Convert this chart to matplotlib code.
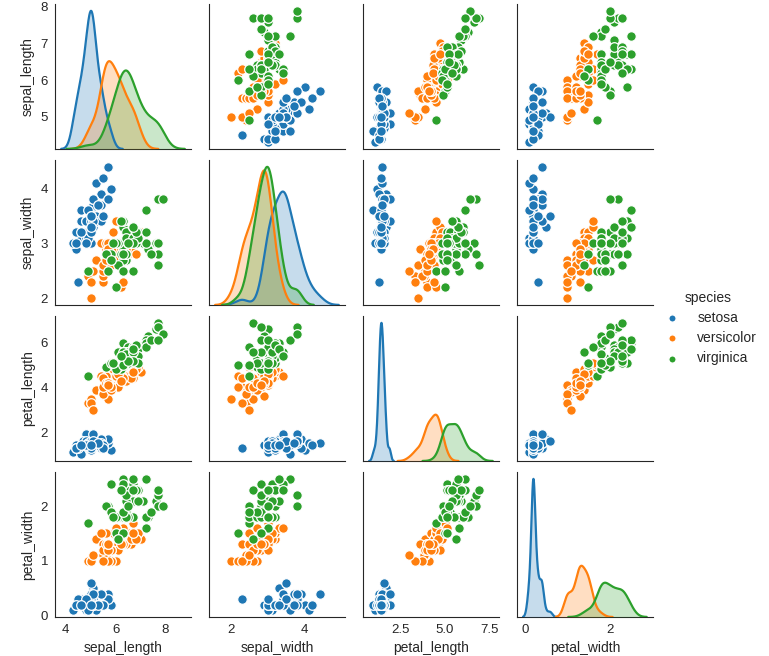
import matplotlib
matplotlib.use("Agg")
import matplotlib.pyplot as plt
import numpy as np
import seaborn as sns

# Fisher's iris measurements, one list per column (50 rows per species)
sepal_length = [
    5.1, 4.9, 4.7, 4.6, 5.0, 5.4, 4.6, 5.0, 4.4, 4.9, 5.4, 4.8, 4.8, 4.3, 5.8, 5.7, 5.4, 5.1, 5.7, 5.1,
    5.4, 5.1, 4.6, 5.1, 4.8, 5.0, 5.0, 5.2, 5.2, 4.7, 4.8, 5.4, 5.2, 5.5, 4.9, 5.0, 5.5, 4.9, 4.4, 5.1,
    5.0, 4.5, 4.4, 5.0, 5.1, 4.8, 5.1, 4.6, 5.3, 5.0,
    7.0, 6.4, 6.9, 5.5, 6.5, 5.7, 6.3, 4.9, 6.6, 5.2, 5.0, 5.9, 6.0, 6.1, 5.6, 6.7, 5.6, 5.8, 6.2, 5.6,
    5.9, 6.1, 6.3, 6.1, 6.4, 6.6, 6.8, 6.7, 6.0, 5.7, 5.5, 5.5, 5.8, 6.0, 5.4, 6.0, 6.7, 6.3, 5.6, 5.5,
    5.5, 6.1, 5.8, 5.0, 5.6, 5.7, 5.7, 6.2, 5.1, 5.7,
    6.3, 5.8, 7.1, 6.3, 6.5, 7.6, 4.9, 7.3, 6.7, 7.2, 6.5, 6.4, 6.8, 5.7, 5.8, 6.4, 6.5, 7.7, 7.7, 6.0,
    6.9, 5.6, 7.7, 6.3, 6.7, 7.2, 6.2, 6.1, 6.4, 7.2, 7.4, 7.9, 6.4, 6.3, 6.1, 7.7, 6.3, 6.4, 6.0, 6.9,
    6.7, 6.9, 5.8, 6.8, 6.7, 6.7, 6.3, 6.5, 6.2, 5.9,
]
sepal_width = [
    3.5, 3.0, 3.2, 3.1, 3.6, 3.9, 3.4, 3.4, 2.9, 3.1, 3.7, 3.4, 3.0, 3.0, 4.0, 4.4, 3.9, 3.5, 3.8, 3.8,
    3.4, 3.7, 3.6, 3.3, 3.4, 3.0, 3.4, 3.5, 3.4, 3.2, 3.1, 3.4, 4.1, 4.2, 3.1, 3.2, 3.5, 3.6, 3.0, 3.4,
    3.5, 2.3, 3.2, 3.5, 3.8, 3.0, 3.8, 3.2, 3.7, 3.3,
    3.2, 3.2, 3.1, 2.3, 2.8, 2.8, 3.3, 2.4, 2.9, 2.7, 2.0, 3.0, 2.2, 2.9, 2.9, 3.1, 3.0, 2.7, 2.2, 2.5,
    3.2, 2.8, 2.5, 2.8, 2.9, 3.0, 2.8, 3.0, 2.9, 2.6, 2.4, 2.4, 2.7, 2.7, 3.0, 3.4, 3.1, 2.3, 3.0, 2.5,
    2.6, 3.0, 2.6, 2.3, 2.7, 3.0, 2.9, 2.9, 2.5, 2.8,
    3.3, 2.7, 3.0, 2.9, 3.0, 3.0, 2.5, 2.9, 2.5, 3.6, 3.2, 2.7, 3.0, 2.5, 2.8, 3.2, 3.0, 3.8, 2.6, 2.2,
    3.2, 2.8, 2.8, 2.7, 3.3, 3.2, 2.8, 3.0, 2.8, 3.0, 2.8, 3.8, 2.8, 2.8, 2.6, 3.0, 3.4, 3.1, 3.0, 3.1,
    3.1, 3.1, 2.7, 3.2, 3.3, 3.0, 2.5, 3.0, 3.4, 3.0,
]
petal_length = [
    1.4, 1.4, 1.3, 1.5, 1.4, 1.7, 1.4, 1.5, 1.4, 1.5, 1.5, 1.6, 1.4, 1.1, 1.2, 1.5, 1.3, 1.4, 1.7, 1.5,
    1.7, 1.5, 1.0, 1.7, 1.9, 1.6, 1.6, 1.5, 1.4, 1.6, 1.6, 1.5, 1.5, 1.4, 1.5, 1.2, 1.3, 1.4, 1.3, 1.5,
    1.3, 1.3, 1.3, 1.6, 1.9, 1.4, 1.6, 1.4, 1.5, 1.4,
    4.7, 4.5, 4.9, 4.0, 4.6, 4.5, 4.7, 3.3, 4.6, 3.9, 3.5, 4.2, 4.0, 4.7, 3.6, 4.4, 4.5, 4.1, 4.5, 3.9,
    4.8, 4.0, 4.9, 4.7, 4.3, 4.4, 4.8, 5.0, 4.5, 3.5, 3.8, 3.7, 3.9, 5.1, 4.5, 4.5, 4.7, 4.4, 4.1, 4.0,
    4.4, 4.6, 4.0, 3.3, 4.2, 4.2, 4.2, 4.3, 3.0, 4.1,
    6.0, 5.1, 5.9, 5.6, 5.8, 6.6, 4.5, 6.3, 5.8, 6.1, 5.1, 5.3, 5.5, 5.0, 5.1, 5.3, 5.5, 6.7, 6.9, 5.0,
    5.7, 4.9, 6.7, 4.9, 5.7, 6.0, 4.8, 4.9, 5.6, 5.8, 6.1, 6.4, 5.6, 5.1, 5.6, 6.1, 5.6, 5.5, 4.8, 5.4,
    5.6, 5.1, 5.1, 5.9, 5.7, 5.2, 5.0, 5.2, 5.4, 5.1,
]
petal_width = [
    0.2, 0.2, 0.2, 0.2, 0.2, 0.4, 0.3, 0.2, 0.2, 0.1, 0.2, 0.2, 0.1, 0.1, 0.2, 0.4, 0.4, 0.3, 0.3, 0.3,
    0.2, 0.4, 0.2, 0.5, 0.2, 0.2, 0.4, 0.2, 0.2, 0.2, 0.2, 0.4, 0.1, 0.2, 0.2, 0.2, 0.2, 0.1, 0.2, 0.2,
    0.3, 0.3, 0.2, 0.6, 0.4, 0.3, 0.2, 0.2, 0.2, 0.2,
    1.4, 1.5, 1.5, 1.3, 1.5, 1.3, 1.6, 1.0, 1.3, 1.4, 1.0, 1.5, 1.0, 1.4, 1.3, 1.4, 1.5, 1.0, 1.5, 1.1,
    1.8, 1.3, 1.5, 1.2, 1.3, 1.4, 1.4, 1.7, 1.5, 1.0, 1.1, 1.0, 1.2, 1.6, 1.5, 1.6, 1.5, 1.3, 1.3, 1.3,
    1.2, 1.4, 1.2, 1.0, 1.3, 1.2, 1.3, 1.3, 1.1, 1.3,
    2.5, 1.9, 2.1, 1.8, 2.2, 2.1, 1.7, 1.8, 1.8, 2.5, 2.0, 1.9, 2.1, 2.0, 2.4, 2.3, 1.8, 2.2, 2.3, 1.5,
    2.3, 2.0, 2.0, 1.8, 2.1, 1.8, 1.8, 1.8, 2.1, 1.6, 1.9, 2.0, 2.2, 1.5, 1.4, 2.3, 2.4, 1.8, 1.8, 2.1,
    2.4, 2.3, 1.9, 2.3, 2.5, 2.3, 1.9, 2.0, 2.3, 1.8,
]
species_names = ["setosa", "versicolor", "virginica"]
species = [name for name in species_names for _ in range(50)]

variables = ["sepal_length", "sepal_width", "petal_length", "petal_width"]
var_ticks = {
    "sepal_length": [4, 6, 8],
    "sepal_width": [2, 4],
    "petal_length": [2.5, 5.0, 7.5],
    "petal_width": [0, 2],
}
var_yticks = {
    "sepal_length": [5, 6, 7, 8],
    "sepal_width": [2, 3, 4],
    "petal_length": [2, 4, 6],
    "petal_width": [0, 1, 2],
}
colors = ["#1f77b4", "#ff7f0e", "#2ca02c"]


def gaussian_kde_curve(values, cut=3, gridsize=200):
    values = np.asarray(values, dtype=float)
    bw = values.std(ddof=1) * len(values) ** (-1 / 5)
    grid = np.linspace(values.min() - cut * bw, values.max() + cut * bw, gridsize)
    dens = np.exp(-0.5 * ((grid[:, None] - values[None, :]) / bw) ** 2).sum(axis=1)
    dens /= len(values) * bw * np.sqrt(2 * np.pi)
    return grid, dens


sns.set_style("white")
plt.rcParams["font.family"] = ["Liberation Sans", "DejaVu Sans"]
plt.rcParams["text.color"] = ".15"
plt.rcParams["axes.labelcolor"] = ".15"
plt.rcParams["xtick.color"] = ".15"
plt.rcParams["ytick.color"] = ".15"

data = {
    "sepal_length": np.array(sepal_length),
    "sepal_width": np.array(sepal_width),
    "petal_length": np.array(petal_length),
    "petal_width": np.array(petal_width),
}
labels = np.array(species)

n = len(variables)
fig, axes = plt.subplots(n, n, figsize=(7.69, 6.56), dpi=100, sharex="col", sharey="row")
fig.subplots_adjust(left=0.0715, right=0.849, top=0.994, bottom=0.0595, wspace=0.132, hspace=0.076)

for i, yvar in enumerate(variables):
    for j, xvar in enumerate(variables):
        ax = axes[i, j]
        if i == j:
            tw = ax.twinx()
            for name, c in zip(species_names, colors):
                grid, dens = gaussian_kde_curve(data[xvar][labels == name])
                tw.fill_between(grid, 0, dens, color=c, alpha=0.25, linewidth=0)
                tw.plot(grid, dens, color=c, linewidth=1.6)
            tw.set_ylim(bottom=0)
            tw.set_yticks([])
            for sp in tw.spines.values():
                sp.set_visible(False)
        else:
            for name, c in zip(species_names, colors):
                mask = labels == name
                ax.scatter(data[xvar][mask], data[yvar][mask], s=48, color=c,
                           edgecolor="white", linewidth=0.9, label=name)
        for side in ("top", "right"):
            ax.spines[side].set_visible(False)
        ax.spines["left"].set_color(".15")
        ax.spines["bottom"].set_color(".15")
        ax.tick_params(labelsize=9.5, length=0, pad=5)
        if i == n - 1:
            ax.set_xlabel(xvar, fontsize=10)
            ax.set_xticks(var_ticks[xvar])
            ax.set_xticklabels([f"{t:g}" if xvar != "petal_length" else f"{t:.1f}" for t in var_ticks[xvar]])
        if j == 0:
            ax.set_ylabel(yvar, fontsize=10)
            ax.set_yticks(var_yticks[yvar])

handles, names = axes[0, 1].get_legend_handles_labels()
leg = fig.legend(handles, names, title="species", loc="center left",
                 bbox_to_anchor=(0.849, 0.5), frameon=False, fontsize=10,
                 title_fontsize=10, markerscale=0.75, labelspacing=0.45,
                 handletextpad=0.8, borderaxespad=0)

fig.savefig("out.png", dpi=100)
